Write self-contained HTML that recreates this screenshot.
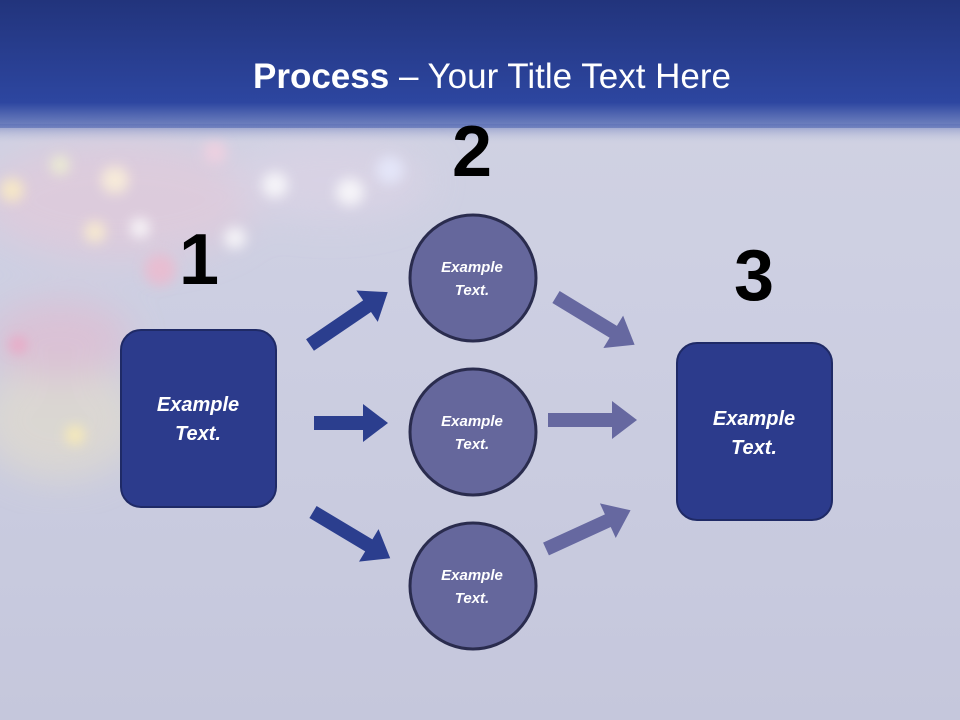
<!DOCTYPE html>
<html><head><meta charset="utf-8"><style>
html,body{margin:0;padding:0;}
body{width:960px;height:720px;overflow:hidden;position:relative;font-family:"Liberation Sans",sans-serif;
background:linear-gradient(180deg,#d2d3e3 0%,#cdcfe2 40%,#c5c7dc 100%);}
</style></head><body>
<svg width="960" height="720" style="position:absolute;left:0;top:0">
<defs>
<linearGradient id="hd" x1="0" y1="0" x2="0" y2="1">
<stop offset="0" stop-color="#22347c"/><stop offset="0.8" stop-color="#2d46a0"/><stop offset="1" stop-color="#3a55aa" stop-opacity="0.6"/>
</linearGradient>
<linearGradient id="fade" x1="0" y1="0" x2="0" y2="1">
<stop offset="0" stop-color="#5a6db5" stop-opacity="0.6"/><stop offset="1" stop-color="#c8cadf" stop-opacity="0"/>
</linearGradient>
<filter id="bl"><feGaussianBlur stdDeviation="6"/></filter>
<filter id="bl2"><feGaussianBlur stdDeviation="18"/></filter>
<g id="ar"><polygon points="0,-7 1,-7 1,7 0,7"/></g>
</defs>
<!-- bokeh -->
<g filter="url(#bl2)" opacity="0.55">
<ellipse cx="120" cy="200" rx="140" ry="60" fill="#e8c8d8"/>
<ellipse cx="60" cy="420" rx="80" ry="60" fill="#e8e0c8"/>
<ellipse cx="60" cy="340" rx="70" ry="40" fill="#e6b8cc"/>
<ellipse cx="330" cy="180" rx="100" ry="40" fill="#e0d4e6"/>
</g>
<g filter="url(#bl)" opacity="0.75">
<circle cx="115" cy="180" r="14" fill="#fff4d8"/>
<circle cx="95" cy="232" r="11" fill="#fff2cc"/>
<circle cx="140" cy="228" r="10" fill="#ffffff"/>
<circle cx="235" cy="238" r="11" fill="#ffffff"/>
<circle cx="275" cy="185" r="13" fill="#ffffff"/>
<circle cx="350" cy="192" r="14" fill="#fff"/>
<circle cx="390" cy="170" r="14" fill="#e8ecff"/>
<circle cx="215" cy="152" r="12" fill="#f4d0e0"/>
<circle cx="60" cy="165" r="10" fill="#f0f4d0"/>
<circle cx="12" cy="190" r="12" fill="#fff0c0"/>
<circle cx="75" cy="435" r="10" fill="#fff0b0"/>
<circle cx="18" cy="345" r="9" fill="#f0a0c0"/>
<circle cx="160" cy="270" r="16" fill="#f0b8cc"/>
</g>
<rect x="0" y="0" width="960" height="128" fill="url(#hd)"/>
<rect x="0" y="124" width="960" height="20" fill="url(#fade)"/>
<text x="492" y="88" text-anchor="middle" fill="#fff" font-size="35" font-family="Liberation Sans, sans-serif"><tspan font-weight="bold">Process</tspan> – Your Title Text Here</text>

<g font-family="Liberation Sans, sans-serif" font-weight="bold" font-size="72" text-anchor="middle" fill="#000">
<text x="199" y="284">1</text><text x="472" y="176">2</text><text x="754" y="300">3</text>
</g>

<!-- arrows -->
<g fill="#2b3e8e">
<polygon points="0,-7 69,-7 69,-19 94,0 69,19 69,7 0,7" transform="translate(310,345) rotate(-34.2)"/>
<polygon points="0,-7 49,-7 49,-19 74,0 49,19 49,7 0,7" transform="translate(314,423)"/>
<polygon points="0,-7 65,-7 65,-19 90,0 65,19 65,7 0,7" transform="translate(313,512) rotate(30.9)"/>
</g>
<g fill="#6668a0">
<polygon points="0,-7 67,-7 67,-19 92,0 67,19 67,7 0,7" transform="translate(556,297) rotate(31.3)"/>
<polygon points="0,-7 64,-7 64,-19 89,0 64,19 64,7 0,7" transform="translate(548,420)"/>
<polygon points="0,-7 68,-7 68,-19 93,0 68,19 68,7 0,7" transform="translate(546,549) rotate(-24.6)"/>
</g>

<rect x="121" y="330" width="155" height="177" rx="20" fill="#2c3b8c" stroke="#1f2a66" stroke-width="2"/>
<rect x="677" y="343" width="155" height="177" rx="20" fill="#2c3b8c" stroke="#1f2a66" stroke-width="2"/>
<g fill="#65679c" stroke="#2a2c4e" stroke-width="3">
<circle cx="473" cy="278" r="63"/><circle cx="473" cy="432" r="63"/><circle cx="473" cy="586" r="63"/>
</g>
<g fill="#fff" font-family="Liberation Sans, sans-serif" font-weight="bold" font-style="italic" text-anchor="middle">
<text x="198" y="411" font-size="20">Example</text><text x="198" y="440" font-size="20">Text.</text>
<text x="754" y="425" font-size="20">Example</text><text x="754" y="454" font-size="20">Text.</text>
<text x="472" y="272" font-size="15">Example</text><text x="472" y="295" font-size="15">Text.</text>
<text x="472" y="426" font-size="15">Example</text><text x="472" y="449" font-size="15">Text.</text>
<text x="472" y="580" font-size="15">Example</text><text x="472" y="603" font-size="15">Text.</text>
</g>
</svg>
</body></html>
